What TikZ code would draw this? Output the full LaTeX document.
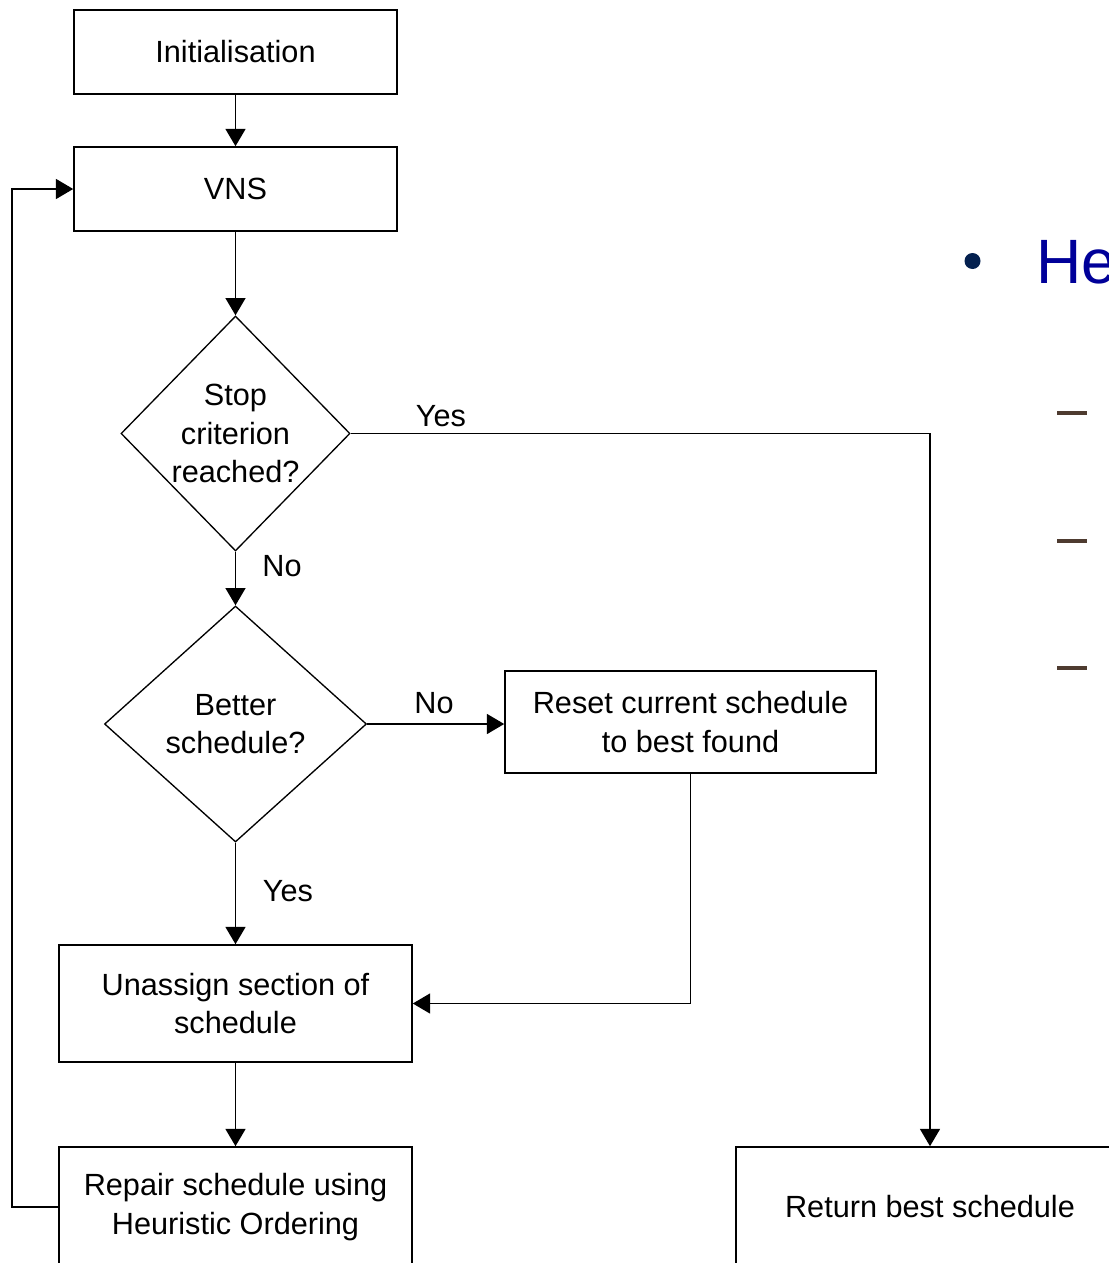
\documentclass[tikz,border=0pt]{standalone}
\usepackage{fontspec}
\setmainfont{Liberation Sans}
\usetikzlibrary{shapes.geometric,arrows.meta}
\newcommand\flowfont{\fontsize{23}{29}\selectfont}
\definecolor{headblue}{HTML}{000099}
\definecolor{bulletnavy}{HTML}{04204F}
\definecolor{dashbrown}{HTML}{4E3B30}
\begin{document}
\begin{tikzpicture}[x=0.75pt,y=-0.75pt,
  box/.style={draw, line width=1.2pt, inner sep=0pt, align=center, font=\flowfont},
  dia/.style={draw, shape=diamond, line width=1pt, inner sep=0pt},
  dtext/.style={align=center, font=\flowfont, inner sep=0pt},
  lbl/.style={font=\flowfont, inner sep=0pt},
  flow/.style={line width=1.2pt, -{Triangle[width=15pt,length=13pt]}},
  plain/.style={line width=1.2pt}
]
\useasboundingbox (0,0) rectangle (1109,1263);
\fill[white] (0,0) rectangle (1109,1263);
\clip (0,0) rectangle (1109,1263);

% process boxes
\node[box, minimum width=242.25pt, minimum height=63pt] (init) at (235.5,52) {Initialisation};
\node[box, minimum width=242.25pt, minimum height=63pt] (vns) at (235.5,189) {VNS};
\node[box, minimum width=278.25pt, minimum height=76.5pt] (reset) at (690.5,722) {Reset current schedule\\to best found};
\node[box, minimum width=264.75pt, minimum height=87.75pt] (unassign) at (235.5,1003.5) {Unassign section of\\schedule};
\node[box, minimum width=264.75pt, minimum height=90pt] (repair) at (235.5,1207) {Repair schedule using\\Heuristic Ordering};
\node[box, minimum width=291pt, minimum height=90pt] (ret) at (930,1207) {Return best schedule};

% decisions
\node[dia, minimum width=171.75pt, minimum height=176.25pt] (stop) at (235.5,433.5) {};
\node[dtext] (stoptxt) at (stop.center) {Stop\\criterion\\reached?};
\node[dia, minimum width=196.5pt, minimum height=177pt] (better) at (235.5,724) {};
\node[dtext] (bettertxt) at (better.center) {Better\\schedule?};

% connectors
\draw[flow] (init) -- (vns);
\draw[flow] (vns) -- (stop.north);
\draw[flow] (stop.south) -- (better.north);
\draw[flow] (better.east) -- (better.east -| reset.west);
\draw[flow] (better.south) -- (unassign.north);
\draw[flow] (reset.south) |- (unassign.east);
\draw[flow] (unassign) -- (repair);
\draw[flow] (stop.east) -| (ret.north);
\coordinate (loop) at (12,1207);
\draw[flow] (repair.west) -- (loop) |- (vns.west);

% branch labels
\node[lbl] (yes1) at (441,416) {Yes};
\node[lbl] (no1) at (282,566) {No};
\node[lbl] (no2) at (434,703) {No};
\node[lbl] (yes2) at (288,891) {Yes};

% slide text beside the chart
\fill[bulletnavy] (972.5,261) circle (6pt);
\node[anchor=base west, inner sep=0pt, text=headblue, font=\fontsize{47}{56}\selectfont] (head) at (1036,283) {He};
\foreach \yy in {413,541,668}
  \draw[dashbrown, line width=3pt] (1057,\yy) -- (1087,\yy);
\end{tikzpicture}
\end{document}
